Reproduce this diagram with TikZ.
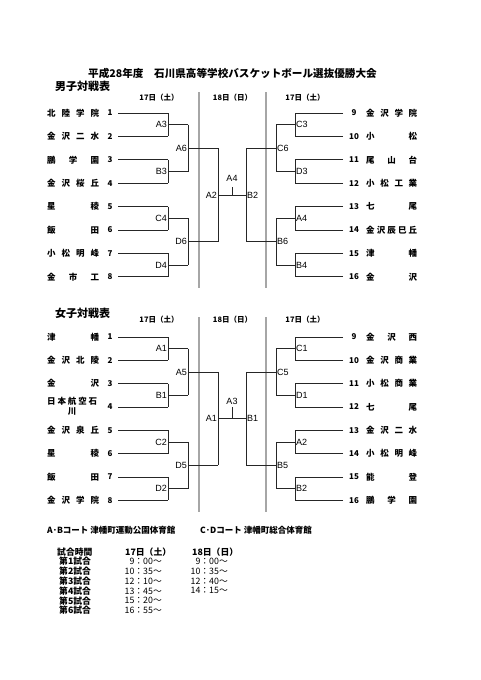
\documentclass[tikz,border=0pt]{standalone}
\usepackage{fontspec}
\setmainfont{Noto Sans CJK JP}
\newfontfamily\labfont{Liberation Sans}
\begin{document}
\begin{tikzpicture}[x=1pt,y=-1pt,
  brk/.style={draw=black!85, line width=0.8pt},
  gline/.style={draw=black!35, line width=1.4pt},
  nm/.style={inner sep=0pt, anchor=west, font=\fontsize{8.5}{10}\selectfont\bfseries},
  num/.style={inner sep=0pt, font=\fontsize{8}{10}\selectfont\bfseries},
  mlL/.style={anchor=east, inner sep=1pt, font=\labfont\fontsize{9}{10}\selectfont},
  mlR/.style={anchor=west, inner sep=1pt, font=\labfont\fontsize{9}{10}\selectfont},
  mlC/.style={anchor=center, inner sep=1pt, font=\labfont\fontsize{9}{10}\selectfont},
  hdr/.style={inner sep=0pt, font=\fontsize{7.5}{9}\selectfont\bfseries},
  sec/.style={inner sep=0pt, anchor=west, font=\fontsize{11}{12}\selectfont\bfseries},
  foot/.style={inner sep=0pt, anchor=west, font=\fontsize{8.5}{10}\selectfont\bfseries},
  sch/.style={inner sep=0pt, anchor=west, font=\fontsize{8.8}{10}\selectfont\bfseries},
  tim/.style={inner sep=0pt, anchor=east, font=\fontsize{8.8}{10}\selectfont}
]
\useasboundingbox (0,0) rectangle (481,680);

\newcommand\mkbracket[3]{%
 \foreach \i in {1,...,8}{%
  \pgfmathsetmacro\yy{#2+(\i-1)*#3}%
  \coordinate (#1Ls\i) at (118,\yy);
  \coordinate (#1Le\i) at (168,\yy);
  \coordinate (#1Rs\i) at (343,\yy);
  \coordinate (#1Re\i) at (295,\yy);
  \draw[brk] (#1Ls\i) -- (#1Le\i);
  \draw[brk] (#1Rs\i) -- (#1Re\i);
 }
 \foreach \k in {1,...,4}{%
  \pgfmathsetmacro\yy{#2+(2*\k-1.5)*#3}%
  \pgfmathtruncatemacro\ia{2*\k-1}%
  \pgfmathtruncatemacro\ib{2*\k}%
  \coordinate (#1La\k) at (168,\yy);
  \coordinate (#1Lb\k) at (188,\yy);
  \coordinate (#1Ra\k) at (295,\yy);
  \coordinate (#1Rb\k) at (276,\yy);
  \draw[brk] (#1Le\ia) -- (#1Le\ib);
  \draw[brk] (#1Re\ia) -- (#1Re\ib);
  \draw[brk] (#1La\k) -- (#1Lb\k);
  \draw[brk] (#1Ra\k) -- (#1Rb\k);
 }
 \foreach \j in {1,2}{%
  \pgfmathsetmacro\yy{#2+(4*\j-2.5)*#3}%
  \pgfmathtruncatemacro\ia{2*\j-1}%
  \pgfmathtruncatemacro\ib{2*\j}%
  \coordinate (#1Lc\j) at (188,\yy);
  \coordinate (#1Ld\j) at (218,\yy);
  \coordinate (#1Rc\j) at (276,\yy);
  \coordinate (#1Rd\j) at (246,\yy);
  \draw[brk] (#1Lb\ia) -- (#1Lb\ib);
  \draw[brk] (#1Rb\ia) -- (#1Rb\ib);
  \draw[brk] (#1Lc\j) -- (#1Ld\j);
  \draw[brk] (#1Rc\j) -- (#1Rd\j);
 }
 \pgfmathsetmacro\yy{#2+3.5*#3}%
 \coordinate (#1Lf) at (218,\yy);
 \coordinate (#1Rf) at (246,\yy);
 \coordinate (#1T) at (232,\yy);
 \draw[brk] (#1Ld1) -- (#1Ld2);
 \draw[brk] (#1Rd1) -- (#1Rd2);
 \draw[brk] (#1Lf) -- (#1Rf);
}

% title
\node[inner sep=0pt, font=\fontsize{10.6}{12}\selectfont\bfseries] (title) at (232.5,73) {平成28年度　石川県高等学校バスケットボール選抜優勝大会};

% ===== men =====
\node[sec] (msec) at (55,86) {男子対戦表};
\node[hdr] (mh1) at (159,98) {17日（土）};
\node[hdr] (mh2) at (232.5,98) {18日（日）};
\node[hdr] (mh3) at (305,98) {17日（土）};
\coordinate (mg1t) at (199,92); \coordinate (mg1b) at (199,288);
\coordinate (mg2t) at (266,92); \coordinate (mg2b) at (266,288);
\draw[gline] (mg1t) -- (mg1b);
\draw[gline] (mg2t) -- (mg2b);
\mkbracket{m}{113}{23.4}

\foreach \i/\n in {1/{北\hfill 陸\hfill 学\hfill 院},2/{金\hfill 沢\hfill 二\hfill 水},3/{鵬\hfill 学\hfill 園},4/{金\hfill 沢\hfill 桜\hfill 丘},5/{星\hfill 稜},6/{飯\hfill 田},7/{小\hfill 松\hfill 明\hfill 峰},8/{金\hfill 市\hfill 工}}{%
  \pgfmathsetmacro\yy{113+(\i-1)*23.4}%
  \node[nm] (mnL\i) at (47,\yy) {\makebox[52pt]{\n}};
  \node[num] (mkL\i) at (110,\yy) {\i};
}
\foreach \i/\n in {1/{金\hfill 沢\hfill 学\hfill 院},2/{小\hfill 松},3/{尾\hfill 山\hfill 台},4/{小\hfill 松\hfill 工\hfill 業},5/{七\hfill 尾},6/{金\hfill 沢\hfill 辰\hfill 巳\hfill 丘},7/{津\hfill 幡},8/{金\hfill 沢}}{%
  \pgfmathsetmacro\yy{113+(\i-1)*23.4}%
  \pgfmathtruncatemacro\jj{\i+8}%
  \node[nm] (mnR\i) at (366,\yy) {\makebox[51pt]{\n}};
  \node[num] (mkR\i) at (354,\yy) {\jj};
}
\node[mlL] (mlA3) at (mLa1) {A3};
\node[mlL] (mlB3) at (mLa2) {B3};
\node[mlL] (mlC4) at (mLa3) {C4};
\node[mlL] (mlD4) at (mLa4) {D4};
\node[mlL] (mlA6) at (mLc1) {A6};
\node[mlL] (mlD6) at (mLc2) {D6};
\node[mlL] (mlA2) at (mLf) {A2};
\node[mlR] (mrC3) at (mRa1) {C3};
\node[mlR] (mrD3) at (mRa2) {D3};
\node[mlR] (mrA4) at (mRa3) {A4};
\node[mlR] (mrB4) at (mRa4) {B4};
\node[mlR] (mrC6) at (mRc1) {C6};
\node[mlR] (mrB6) at (mRc2) {B6};
\node[mlR] (mrB2) at (mRf) {B2};
\coordinate (mTt) at (232,187);
\draw[brk] (mT) -- (mTt);
\node[mlC] (mfA4) at (232,178) {A4};

% ===== women =====
\node[sec] (wsec) at (55,313) {女子対戦表};
\node[hdr] (wh1) at (159,320) {17日（土）};
\node[hdr] (wh2) at (232.5,320) {18日（日）};
\node[hdr] (wh3) at (305,320) {17日（土）};
\coordinate (wg1t) at (199,317); \coordinate (wg1b) at (199,512);
\coordinate (wg2t) at (266,317); \coordinate (wg2b) at (266,512);
\draw[gline] (wg1t) -- (wg1b);
\draw[gline] (wg2t) -- (wg2b);
\mkbracket{w}{337}{23.33}

\foreach \i/\n in {1/{津\hfill 幡},2/{金\hfill 沢\hfill 北\hfill 陵},3/{金\hfill 沢},5/{金\hfill 沢\hfill 泉\hfill 丘},6/{星\hfill 稜},7/{飯\hfill 田},8/{金\hfill 沢\hfill 学\hfill 院}}{%
  \pgfmathsetmacro\yy{337+(\i-1)*23.33}%
  \node[nm] (wnL\i) at (47,\yy) {\makebox[52pt]{\n}};
}
\foreach \i in {1,...,8}{%
  \pgfmathsetmacro\yy{337+(\i-1)*23.33}%
  \node[num] (wkL\i) at (110,\yy) {\i};
}
\node[nm] (wnL4a) at (47,401) {\makebox[50pt]{日\hfill 本\hfill 航\hfill 空\hfill 石}};
\node[nm, anchor=center] (wnL4b) at (72,412) {川};
\foreach \i/\n in {1/{金\hfill 沢\hfill 西},2/{金\hfill 沢\hfill 商\hfill 業},3/{小\hfill 松\hfill 商\hfill 業},4/{七\hfill 尾},5/{金\hfill 沢\hfill 二\hfill 水},6/{小\hfill 松\hfill 明\hfill 峰},7/{能\hfill 登},8/{鵬\hfill 学\hfill 園}}{%
  \pgfmathsetmacro\yy{337+(\i-1)*23.33}%
  \pgfmathtruncatemacro\jj{\i+8}%
  \node[nm] (wnR\i) at (366,\yy) {\makebox[51pt]{\n}};
  \node[num] (wkR\i) at (354,\yy) {\jj};
}
\node[mlL] (wlA1) at (wLa1) {A1};
\node[mlL] (wlB1) at (wLa2) {B1};
\node[mlL] (wlC2) at (wLa3) {C2};
\node[mlL] (wlD2) at (wLa4) {D2};
\node[mlL] (wlA5) at (wLc1) {A5};
\node[mlL] (wlD5) at (wLc2) {D5};
\node[mlL] (wlA1f) at (wLf) {A1};
\node[mlR] (wrC1) at (wRa1) {C1};
\node[mlR] (wrD1) at (wRa2) {D1};
\node[mlR] (wrA2) at (wRa3) {A2};
\node[mlR] (wrB2) at (wRa4) {B2};
\node[mlR] (wrC5) at (wRc1) {C5};
\node[mlR] (wrB5) at (wRc2) {B5};
\node[mlR] (wrB1) at (wRf) {B1};
\coordinate (wTt) at (232,407);
\draw[brk] (wT) -- (wTt);
\node[mlC] (wfA3) at (232,401) {A3};

% ===== footer =====
\node[foot] (ct1) at (47,530) {A･Bコート 津幡町運動公園体育館};
\node[foot] (ct2) at (200,530) {C･Dコート 津幡町総合体育館};

\node[sch] (s0) at (57,552) {試合時間};
\node[sch] (s0a) at (125,552) {17日（土）};
\node[sch] (s0b) at (192,552) {18日（日）};
\foreach \r/\ta/\tb in {1/9：00～/9：00～,2/10：35～/10：35～,3/12：10～/12：40～,4/13：45～/14：15～,5/15：20～/,6/16：55～/}{%
  \pgfmathsetmacro\yy{561.5+(\r-1)*9.8}%
  \node[sch] (s\r) at (59,\yy) {第\r 試合};
  \node[tim] (s\r a) at (162,\yy) {\ta};
  \node[tim] (s\r b) at (228,\yy) {\tb};
}
\end{tikzpicture}
\end{document}
